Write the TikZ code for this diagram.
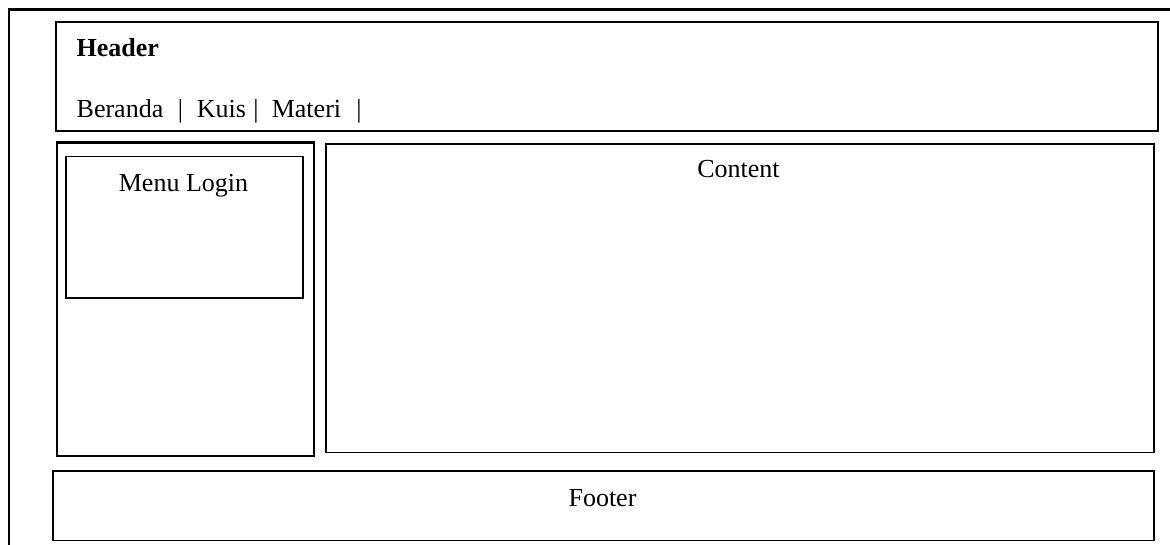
\documentclass[tikz,border=0pt]{standalone}
\usepackage{fontspec}
\setmainfont{Liberation Serif}
\begin{document}
\begin{tikzpicture}[x=1pt,y=-1pt,
  box/.style={draw=black,line width=1.7pt,inner sep=0pt,anchor=north west},
  txt/.style={inner sep=0pt,font=\fontsize{26}{30}\selectfont}]
\useasboundingbox (0,0) rectangle (1170,545);
% outer frame (partly outside the page)
\coordinate (otl) at (9,9.5);
\coordinate (otr) at (1172,9.5);
\coordinate (obl) at (9,547);
\draw[line width=2.6pt] (obl) -- (otl) -- (otr);
% header
\node[box,minimum width=1102pt,minimum height=109pt] (header) at (55,21) {};
\node[txt,anchor=base west,font=\fontsize{26}{30}\selectfont\bfseries] (htitle) at (76.5,56.7) {Header};
\node[txt,anchor=base west] (nav) at (76.5,117.3) {Beranda\hspace{14.5pt}|\hspace{13.8pt}Kuis\hspace{7.4pt}|\hspace{13.3pt}Materi\hspace{15.3pt}|};
% left panel
\node[box,line width=2.3pt,minimum width=257pt,minimum height=313.5pt] (left) at (55.5,141.5) {};
\node[box,minimum width=237pt,minimum height=141.5pt] (login) at (65,155.8) {};
\node[txt,anchor=base] (logintxt) at (183.5,191.7) {Menu Login};
% content
\node[box,minimum width=828pt,minimum height=308.5pt] (content) at (324.8,143) {};
\node[txt,anchor=base] (contenttxt) at (738.5,177.7) {Content};
% footer
\node[box,minimum width=1101pt,minimum height=69.5pt] (footer) at (52.3,470) {};
\node[txt,anchor=base] (footertxt) at (602.5,506.7) {Footer};
\end{tikzpicture}
\end{document}
